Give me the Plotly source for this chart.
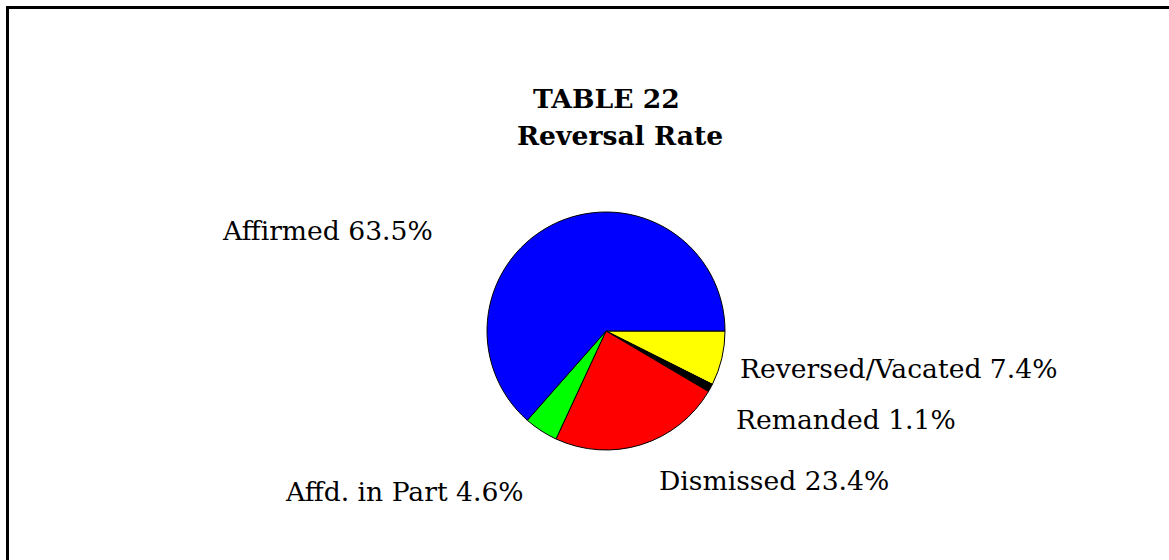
import plotly.graph_objects as go

labels = ["Reversed/Vacated", "Remanded", "Dismissed", "Affd. in Part", "Affirmed"]
values = [7.4, 1.1, 23.4, 4.6, 63.5]
colors = ["#ffff00", "#000000", "#ff0000", "#00ff00", "#0000ff"]

title_lines = ["TABLE 22", "Reversal Rate"]

W, H = 1169, 560
FONT = "DejaVu Serif"
FS = 26.6

cx, cy, r = 606, 331, 119

fig = go.Figure(go.Pie(
    labels=labels,
    values=values,
    sort=False,
    direction="clockwise",
    rotation=90,
    marker=dict(colors=colors, line=dict(color="#000000", width=1)),
    textinfo="none",
    hoverinfo="label+percent",
    showlegend=False,
    domain=dict(x=[(cx - r) / W, (cx + r) / W], y=[(H - cy - r) / H, (H - cy + r) / H]),
))

# label placements (left x, center y) in pixels
label_pos = {
    "Affirmed": (220, 230),
    "Reversed/Vacated": (738, 368),
    "Remanded": (734, 419),
    "Dismissed": (657, 480),
    "Affd. in Part": (283, 491),
}

annotations = []
for lab, val in zip(labels, values):
    x, y = label_pos[lab]
    annotations.append(dict(
        x=x / W, y=1 - y / H, xref="paper", yref="paper",
        xanchor="left", yanchor="middle", showarrow=False,
        text=f"{lab} {val}%",
        font=dict(family=FONT, size=FS, color="#000000"),
    ))

annotations.append(dict(x=606 / W, y=1 - 98 / H, xref="paper", yref="paper",
                        xanchor="center", yanchor="middle", showarrow=False,
                        text=f"<b>{title_lines[0]}</b>",
                        font=dict(family=FONT, size=FS, color="#000000")))
annotations.append(dict(x=620 / W, y=1 - 135 / H, xref="paper", yref="paper",
                        xanchor="center", yanchor="middle", showarrow=False,
                        text=f"<b>{title_lines[1]}</b>",
                        font=dict(family=FONT, size=FS, color="#000000")))

shapes = [
    dict(type="line", xref="paper", yref="paper", x0=7.5 / W, x1=7.5 / W, y0=0, y1=1 - 6 / H,
         line=dict(color="#000000", width=3)),
    dict(type="line", xref="paper", yref="paper", x0=6 / W, x1=1, y0=1 - 7.5 / H, y1=1 - 7.5 / H,
         line=dict(color="#000000", width=3)),
]

fig.update_layout(
    width=W, height=H,
    margin=dict(l=0, r=0, t=0, b=0),
    paper_bgcolor="#ffffff",
    plot_bgcolor="#ffffff",
    annotations=annotations,
    shapes=shapes,
)

fig.write_html("out.html",
               config={"displayModeBar": False},
               post_script="document.body.style.margin='0';document.body.style.overflow='hidden';")
